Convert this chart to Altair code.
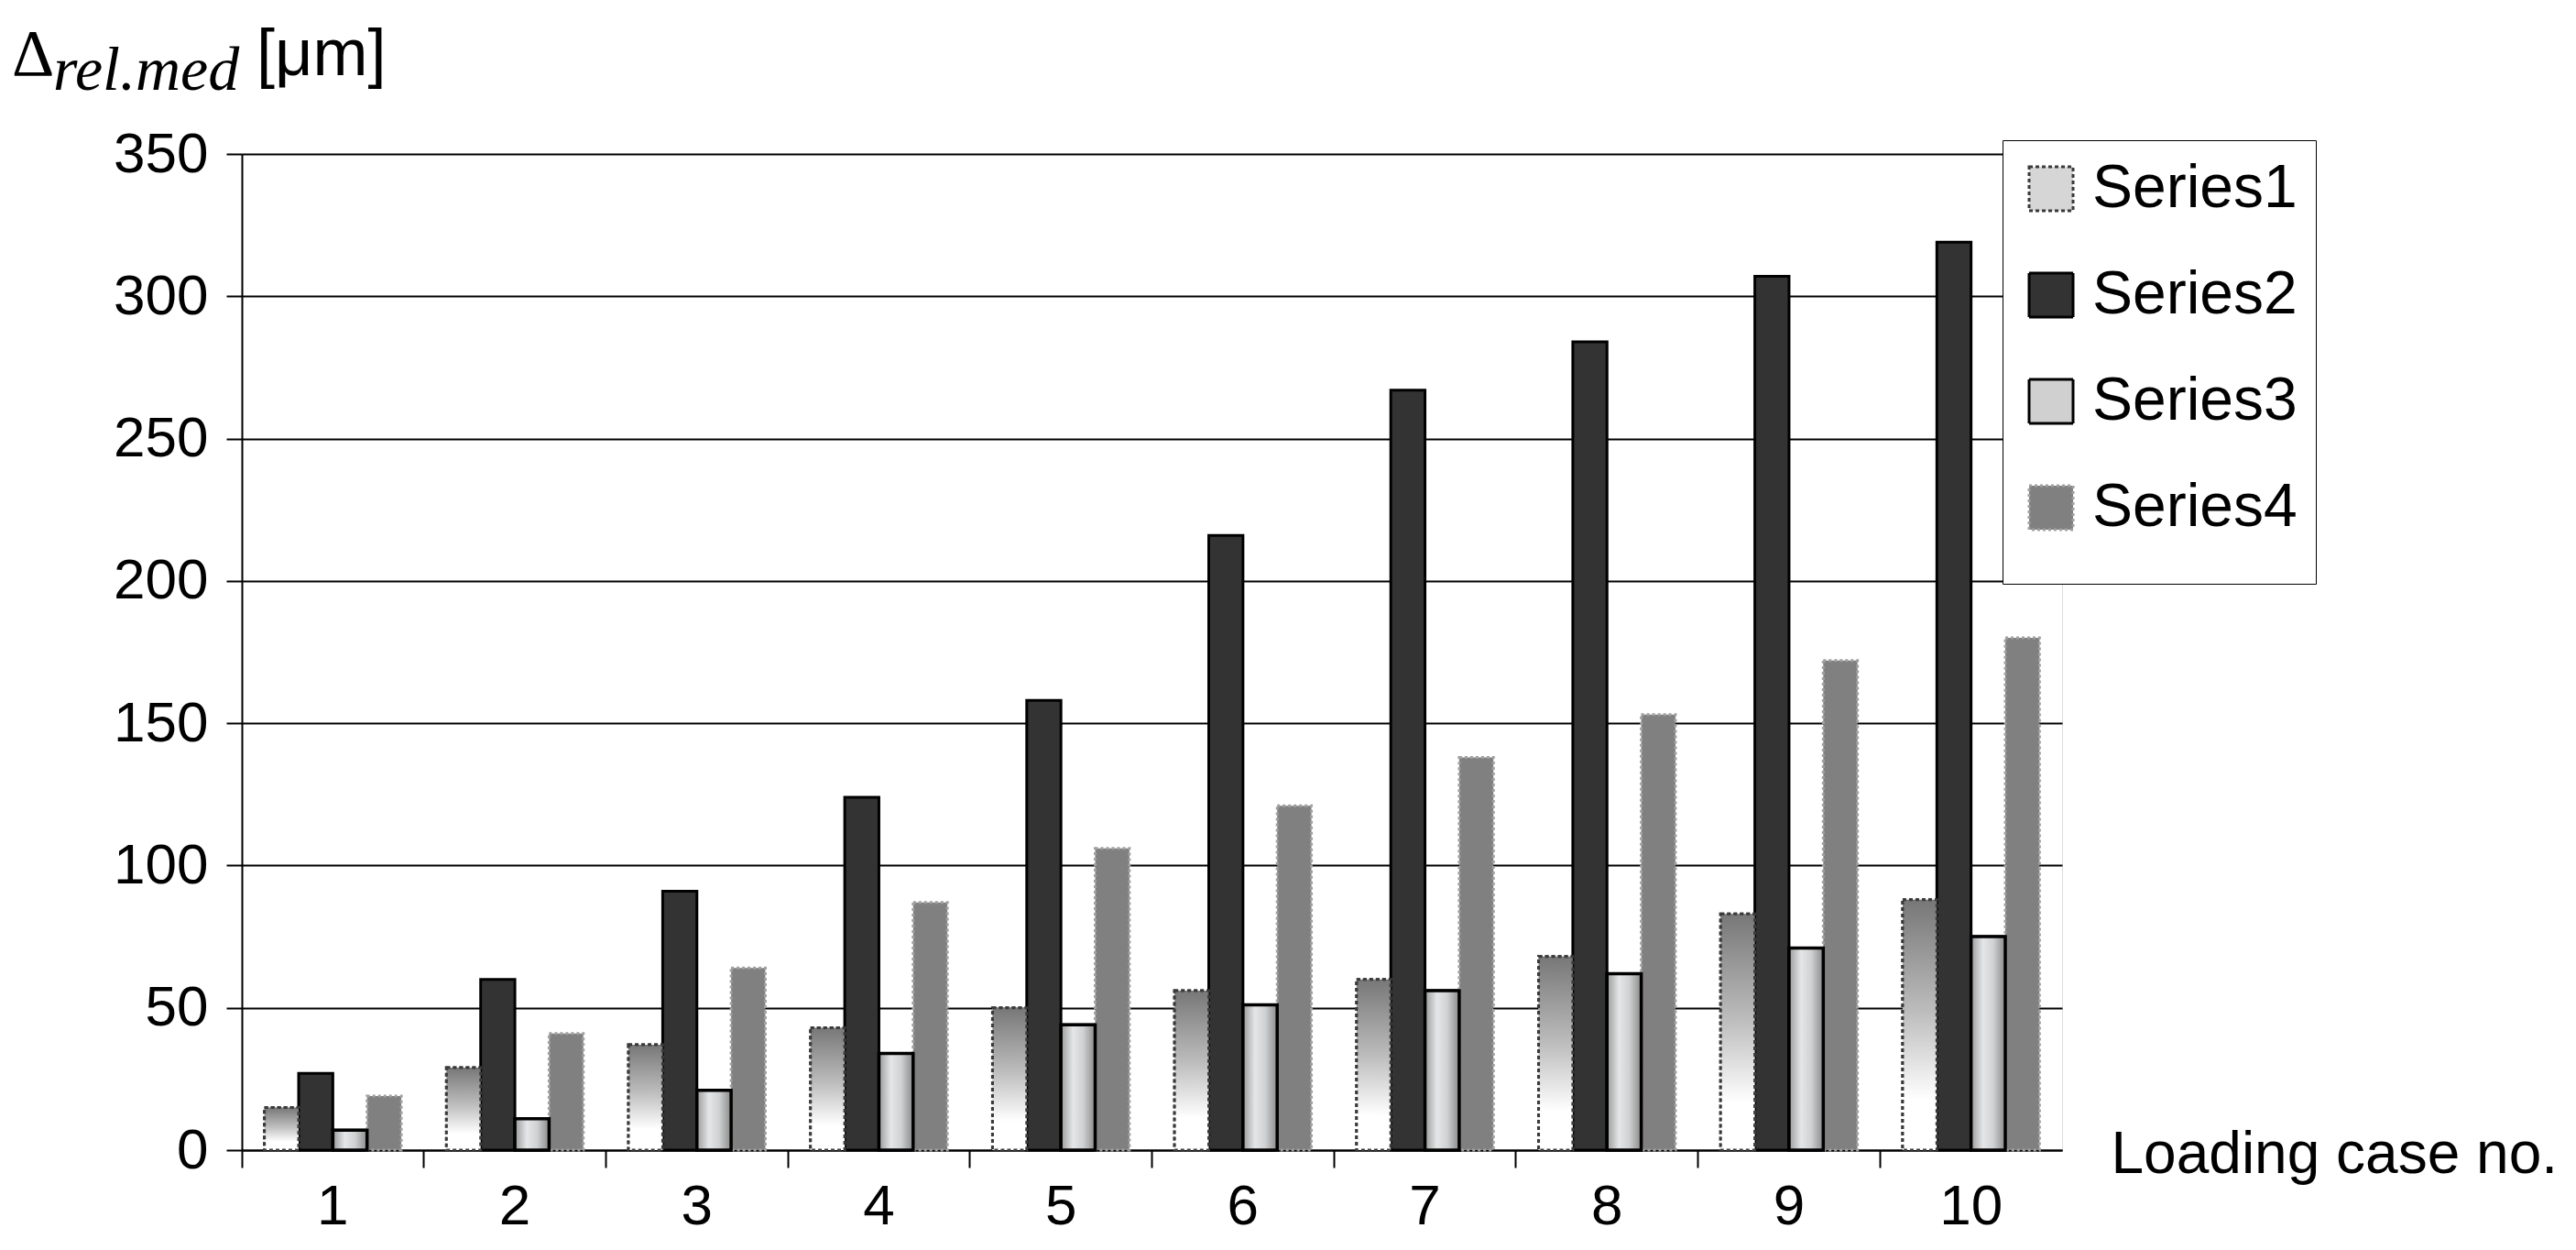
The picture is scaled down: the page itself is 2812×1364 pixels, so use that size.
import altair as alt
import pandas as pd

cases = ["1", "2", "3", "4", "5", "6", "7", "8", "9", "10"]
series_names = ["Series1", "Series2", "Series3", "Series4"]
series1 = [15, 29, 37, 43, 50, 56, 60, 68, 83, 88]
series2 = [27, 60, 91, 124, 158, 216, 267, 284, 307, 319]
series3 = [7, 11, 21, 34, 44, 51, 56, 62, 71, 75]
series4 = [19, 41, 64, 87, 106, 121, 138, 153, 172, 180]
y_ticks = [0, 50, 100, 150, 200, 250, 300, 350]

rows = []
for name, vals in zip(series_names, [series1, series2, series3, series4]):
    for c, v in zip(cases, vals):
        rows.append({"case": c, "series": name, "value": v})
df = pd.DataFrame(rows)

FONT = "Liberation Sans"

x_enc = alt.X(
    "case:N",
    sort=cases,
    scale=alt.Scale(paddingInner=0, paddingOuter=0),
    axis=alt.Axis(
        title="Loading case no.",
        labelAngle=0,
        labelFontSize=62,
        labelFont=FONT,
        labelColor="black",
        labelPadding=12,
        tickSize=19,
        tickWidth=2,
        tickColor="black",
        bandPosition=0,
        domainColor="black",
        domainWidth=2,
        titleFontSize=64,
        titleFont=FONT,
        titleFontWeight="normal",
        titleColor="black",
        titleAlign="left",
        titleBaseline="alphabetic",
        titleX=2040,
        titleY=24,
    ),
)
xo_enc = alt.XOffset(
    "series:N",
    scale=alt.Scale(domain=series_names, paddingInner=0, paddingOuter=0.66),
)
y_enc = alt.Y(
    "value:Q",
    scale=alt.Scale(domain=[0, 350], nice=False),
    axis=alt.Axis(
        title=None,
        values=y_ticks,
        labelFontSize=62,
        labelFont=FONT,
        labelColor="black",
        labelPadding=20,
        tickSize=17,
        tickWidth=2,
        tickColor="black",
        domainColor="black",
        domainWidth=2,
        grid=True,
        gridColor="black",
        gridWidth=2,
    ),
)

legend = alt.Legend(
    title=" ",
    titleOrient="bottom",
    titleFontSize=20,
    titlePadding=10,
    orient="none",
    legendX=1922,
    legendY=-15,
    symbolType="square",
    symbolSize=2304,
    symbolStrokeWidth=3,
    labelFontSize=66,
    labelFont=FONT,
    labelColor="black",
    labelLimit=500,
    labelOffset=12,
    rowPadding=50,
    padding=20,
    fillColor="white",
    strokeColor="black",
)

base = alt.Chart(df).mark_bar(strokeWidth=3).encode(
    x=x_enc,
    xOffset=xo_enc,
    y=y_enc,
    fill=alt.Fill(
        "series:N",
        scale=alt.Scale(domain=series_names,
                        range=["#d6d6d6", "#333333", "#d0d0d0", "#808080"]),
        legend=legend,
    ),
    stroke=alt.Stroke(
        "series:N",
        scale=alt.Scale(domain=series_names,
                        range=["#3a3a3a", "#000000", "#000000", "#a0a0a0"]),
        legend=legend,
    ),
    strokeDash=alt.StrokeDash(
        "series:N",
        scale=alt.Scale(domain=series_names,
                        range=[[4, 3], [1, 0], [1, 0], [3, 3]]),
        legend=legend,
    ),
)

grad1 = alt.LinearGradient(
    gradient="linear",
    stops=[
        alt.GradientStop(offset=0, color="#777777"),
        alt.GradientStop(offset=0.45, color="#bdbdbd"),
        alt.GradientStop(offset=0.8, color="#ffffff"),
        alt.GradientStop(offset=1, color="#ffffff"),
    ],
    x1=0, x2=0, y1=0, y2=1,
)
grad3 = alt.LinearGradient(
    gradient="linear",
    stops=[
        alt.GradientStop(offset=0, color="#9a9a9a"),
        alt.GradientStop(offset=0.35, color="#e4e6e8"),
        alt.GradientStop(offset=0.65, color="#cfd1d3"),
        alt.GradientStop(offset=1, color="#8a8a8a"),
    ],
    x1=0, x2=1, y1=0, y2=0,
)

s1 = alt.Chart(df).transform_filter(alt.datum.series == "Series1").mark_bar(
    fill=grad1, stroke="#3a3a3a", strokeWidth=3, strokeDash=[4, 3]
).encode(x=x_enc, xOffset=xo_enc, y=y_enc)

s3 = alt.Chart(df).transform_filter(alt.datum.series == "Series3").mark_bar(
    fill=grad3, stroke="black", strokeWidth=3.5
).encode(x=x_enc, xOffset=xo_enc, y=y_enc)

delta_df = pd.DataFrame({"t": ["Δ"]})
sub_df = pd.DataFrame({"t": ["rel.med"]})
unit_df = pd.DataFrame({"t": ["[μm]"]})

t_delta = alt.Chart(delta_df).mark_text(
    align="left", baseline="alphabetic", font="Liberation Serif", fontSize=72, color="black"
).encode(text="t:N", x=alt.value(-251), y=alt.value(-86))
t_sub = alt.Chart(sub_df).mark_text(
    align="left", baseline="alphabetic", font="Liberation Serif", fontSize=68,
    fontStyle="italic", color="black"
).encode(text="t:N", x=alt.value(-206), y=alt.value(-70))
t_unit = alt.Chart(unit_df).mark_text(
    align="left", baseline="alphabetic", font=FONT, fontSize=72, color="black"
).encode(text="t:N", x=alt.value(16), y=alt.value(-86))

chart = alt.layer(base, s1, s3, t_delta, t_sub, t_unit).properties(
    width=1987,
    height=1087,
    padding={"left": 256, "top": 160, "right": 553, "bottom": 101},
    autosize=alt.AutoSizeParams(type="none"),
).configure_view(
    fill="#c0c0c0", stroke="transparent"
).configure(
    font=FONT, background="white"
)

chart.save("out.html", embed_options={"renderer": "svg", "actions": False})
